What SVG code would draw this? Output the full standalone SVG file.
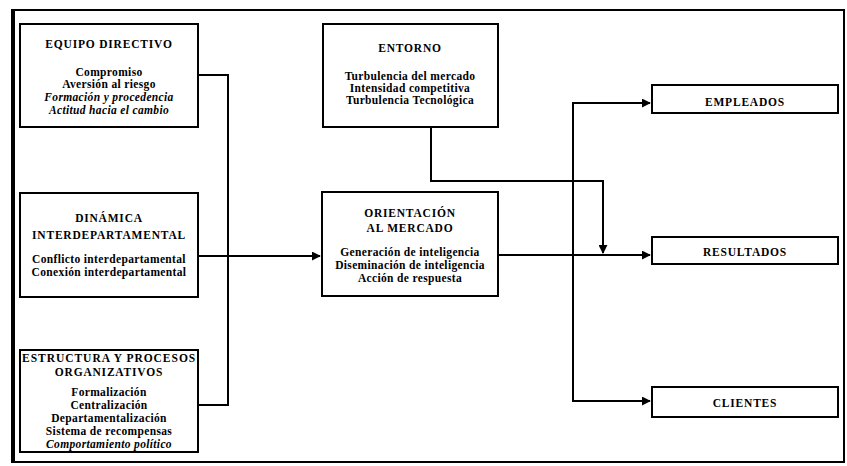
<svg xmlns="http://www.w3.org/2000/svg" width="847" height="466" viewBox="0 0 847 466">
<style>
.bg{fill:#fff}
.frame{fill:none;stroke:#000;stroke-width:2}
.box rect{fill:#fff;stroke:#000;stroke-width:2}
text{font-family:"Liberation Serif","Times New Roman",serif;font-weight:bold;font-size:11.5px;letter-spacing:0.35px;fill:#000;text-anchor:middle}
.h{letter-spacing:0.8px;font-size:11.5px}
.i{font-style:italic}
.c{fill:none;stroke:#000;stroke-width:2}
</style>
<defs>
<marker id="arr" viewBox="0 0 10 10" refX="9" refY="5" markerWidth="4.5" markerHeight="4.5" orient="auto" markerUnits="strokeWidth">
<path d="M0,0 L10,5 L0,10 z" fill="#000"/>
</marker>
</defs>
<rect class="bg" x="0" y="0" width="847" height="466"/>
<rect class="frame" x="13" y="10" width="831" height="452"/>
<line x1="13" y1="9" x2="13" y2="463" stroke="#000" stroke-width="4"/>

<g id="connectors">
<path class="c" d="M198,75 H228 V405 H198"/>
<path class="c" d="M198,256 H320" marker-end="url(#arr)"/>
<path class="c" d="M431,127 V181 H603 V253" marker-end="url(#arr)"/>
<path class="c" d="M498,255 H650" marker-end="url(#arr)"/>
<path class="c" d="M650,103 H573 V401 H650" marker-end="url(#arr)"/>
<path class="c" d="M573,103 H650" marker-end="url(#arr)"/>
</g>

<g id="equipo" class="box">
<rect x="20" y="24" width="178" height="103"/>
<text class="h" x="109" y="48">EQUIPO DIRECTIVO</text>
<text x="109" y="76">Compromiso</text>
<text x="109" y="88">Aversión al riesgo</text>
<text class="i" x="109" y="101">Formación y procedencia</text>
<text class="i" x="109" y="114">Actitud hacia el cambio</text>
</g>

<g id="dinamica" class="box">
<rect x="20" y="193" width="178" height="104"/>
<text class="h" x="109" y="222">DINÁMICA</text>
<text class="h" x="109" y="239">INTERDEPARTAMENTAL</text>
<text x="109" y="263">Conflicto interdepartamental</text>
<text x="109" y="276">Conexión interdepartamental</text>
</g>

<g id="estructura" class="box">
<rect x="20" y="350" width="178" height="102"/>
<text class="h" x="109" y="362" textLength="174" lengthAdjust="spacing">ESTRUCTURA  Y PROCESOS</text>
<text class="h" x="109" y="376">ORGANIZATIVOS</text>
<text x="109" y="396">Formalización</text>
<text x="109" y="409">Centralización</text>
<text x="109" y="422">Departamentalización</text>
<text x="109" y="435">Sistema de recompensas</text>
<text class="i" x="109" y="448">Comportamiento político</text>
</g>

<g id="entorno" class="box">
<rect x="323" y="24" width="175" height="103"/>
<text class="h" x="410" y="52">ENTORNO</text>
<text x="410" y="80">Turbulencia del mercado</text>
<text x="410" y="92">Intensidad competitiva</text>
<text x="410" y="104">Turbulencia Tecnológica</text>
</g>

<g id="orientacion" class="box">
<rect x="322" y="192" width="176" height="104"/>
<text class="h" x="410" y="217">ORIENTACIÓN</text>
<text class="h" x="410" y="232">AL MERCADO</text>
<text x="410" y="256">Generación de inteligencia</text>
<text x="410" y="269">Diseminación de inteligencia</text>
<text x="410" y="282">Acción de respuesta</text>
</g>

<g id="empleados" class="box">
<rect x="652" y="85" width="186" height="28"/>
<text class="h" x="745" y="106">EMPLEADOS</text>
</g>

<g id="resultados" class="box">
<rect x="652" y="237" width="186" height="27"/>
<text class="h" x="745" y="256">RESULTADOS</text>
</g>

<g id="clientes" class="box">
<rect x="652" y="387" width="186" height="30"/>
<text class="h" x="745" y="407">CLIENTES</text>
</g>
</svg>
